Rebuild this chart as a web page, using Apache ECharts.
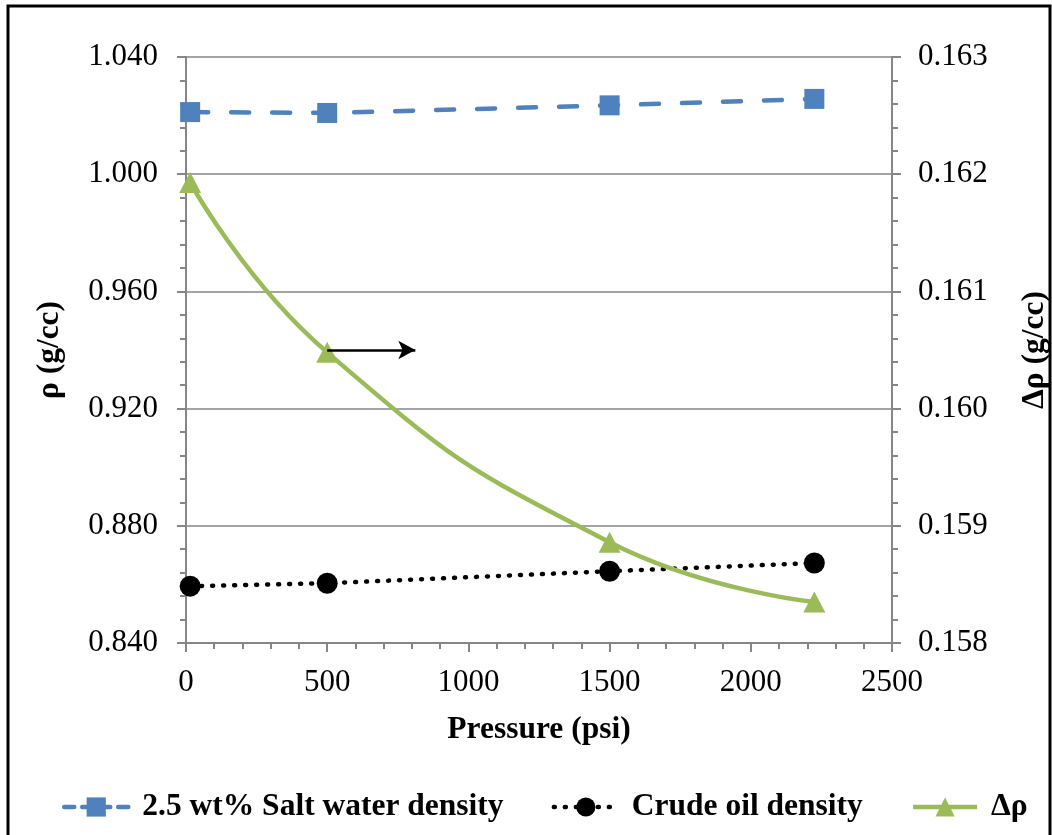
<!DOCTYPE html>
<html>
<head>
<meta charset="utf-8">
<script src="https://cdn.jsdelivr.net/npm/echarts@6/dist/echarts.min.js"></script>
<style>
html,body{margin:0;padding:0;background:#fff;}
#chart{width:1052px;height:835px;}
</style>
</head>
<body>
<div id="chart"></div>
<script>
// Data
var pressure = [14.7, 500, 1500, 2225];
var saltWaterDensity = [1.0212, 1.0209, 1.0235, 1.0257];
var crudeOilDensity = [0.8594, 0.8604, 0.8645, 0.8673];
var deltaRho = [0.16193, 0.16048, 0.15886, 0.15835];
var seriesNames = ['2.5 wt% Salt water density', 'Crude oil density', 'Δρ'];
var arrowFrom = [500, 0.1605];
var arrowTo = [812, 0.1605];

function pairs(xs, ys) { return xs.map(function (x, i) { return [x, ys[i]]; }); }

var FONT = '"Liberation Serif", "Times New Roman", serif';
var AX = '#868686';
var LBL = 31;
var TTL = 31.5;

var chart = echarts.init(document.getElementById('chart'), null, {renderer: 'canvas'});
chart.setOption({
  backgroundColor: '#fff',
  animation: false,
  textStyle: {fontFamily: FONT},
  grid: {left: 186, right: 160, top: 57, bottom: 192, containLabel: false, outerBoundsMode: 'none'},
  graphic: [{
    type: 'rect', shape: {x: 8, y: 6, width: 1042, height: 845},
    style: {fill: 'none', stroke: '#000', lineWidth: 3}, silent: true, z: 100
  }],
  legend: {
    data: [
      {name: seriesNames[0], lineStyle: {width: 4.5, type: [10, 8], cap: 'round'}},
      {name: seriesNames[1], lineStyle: {width: 4.5, type: [1, 10], cap: 'round'}},
      {name: seriesNames[2], lineStyle: {width: 4.5}}
    ],
    left: 57,
    top: 786,
    itemWidth: 64,
    itemHeight: 24,
    itemGap: 48,
    textStyle: {fontFamily: FONT, fontSize: TTL, fontWeight: 'bold', color: '#000', padding: [0, 0, 0, 9]}
  },
  xAxis: {
    type: 'value', min: 0, max: 2500, interval: 500,
    name: 'Pressure (psi)', nameLocation: 'middle', nameGap: 71,
    nameTextStyle: {fontFamily: FONT, fontSize: TTL, fontWeight: 'bold', color: '#000'},
    axisLine: {show: true, lineStyle: {color: AX, width: 2}},
    axisTick: {show: true, inside: false, length: 9, lineStyle: {color: AX, width: 2}},
    minorTick: {show: true, splitNumber: 5, length: 6, lineStyle: {color: AX, width: 2}},
    splitLine: {show: false},
    axisLabel: {fontFamily: FONT, fontSize: LBL, color: '#000', margin: 24,
      formatter: function (v) { return String(v); }}
  },
  yAxis: [{
    type: 'value', min: 0.84, max: 1.04, interval: 0.04, position: 'left',
    name: 'ρ (g/cc)', nameLocation: 'middle', nameGap: 120, nameRotate: 90,
    nameTextStyle: {fontFamily: FONT, fontSize: TTL, fontWeight: 'bold', color: '#000'},
    axisLine: {show: true, lineStyle: {color: AX, width: 2}},
    axisTick: {show: true, inside: false, length: 9, lineStyle: {color: AX, width: 2}},
    minorTick: {show: true, splitNumber: 5, length: 6, lineStyle: {color: AX, width: 2}},
    splitLine: {show: true, lineStyle: {color: AX, width: 1.5}},
    axisLabel: {fontFamily: FONT, fontSize: LBL, color: '#000', margin: 28,
      formatter: function (v) { return v.toFixed(3); }}
  }, {
    type: 'value', min: 0.158, max: 0.163, interval: 0.001, position: 'right',
    name: 'Δρ (g/cc)', nameLocation: 'middle', nameGap: 127, nameRotate: 90,
    nameTextStyle: {fontFamily: FONT, fontSize: TTL, fontWeight: 'bold', color: '#000'},
    axisLine: {show: true, lineStyle: {color: AX, width: 2}},
    axisTick: {show: true, inside: false, length: 9, lineStyle: {color: AX, width: 2}},
    minorTick: {show: true, splitNumber: 5, length: 6, lineStyle: {color: AX, width: 2}},
    splitLine: {show: false},
    axisLabel: {fontFamily: FONT, fontSize: LBL, color: '#000', margin: 26,
      formatter: function (v) { return v.toFixed(3); }}
  }],
  series: [{
    name: seriesNames[0], type: 'line', yAxisIndex: 0,
    data: pairs(pressure, saltWaterDensity),
    symbol: 'rect', symbolSize: 20,
    itemStyle: {color: '#4F81BD'},
    lineStyle: {color: '#4F81BD', width: 4.5, type: [18, 23], cap: 'round'},
    z: 3
  }, {
    name: seriesNames[1], type: 'line', yAxisIndex: 0,
    data: pairs(pressure, crudeOilDensity),
    symbol: 'circle', symbolSize: 21,
    itemStyle: {color: '#000'},
    lineStyle: {color: '#000', width: 4.5, type: [1, 10], cap: 'round'},
    z: 3
  }, {
    name: seriesNames[2], type: 'line', yAxisIndex: 1,
    data: pairs(pressure, deltaRho),
    smooth: 0.5,
    symbol: 'triangle', symbolSize: [22, 21],
    itemStyle: {color: '#9BBB59'},
    lineStyle: {color: '#9BBB59', width: 4.5},
    z: 4,
    markLine: {
      silent: true, animation: false,
      symbol: ['none', 'arrow'], symbolSize: [14, 17],
      label: {show: false},
      lineStyle: {color: '#000', width: 2.5, type: 'solid'},
      data: [[{coord: arrowFrom}, {coord: arrowTo}]]
    }
  }]
});
</script>
</body>
</html>
